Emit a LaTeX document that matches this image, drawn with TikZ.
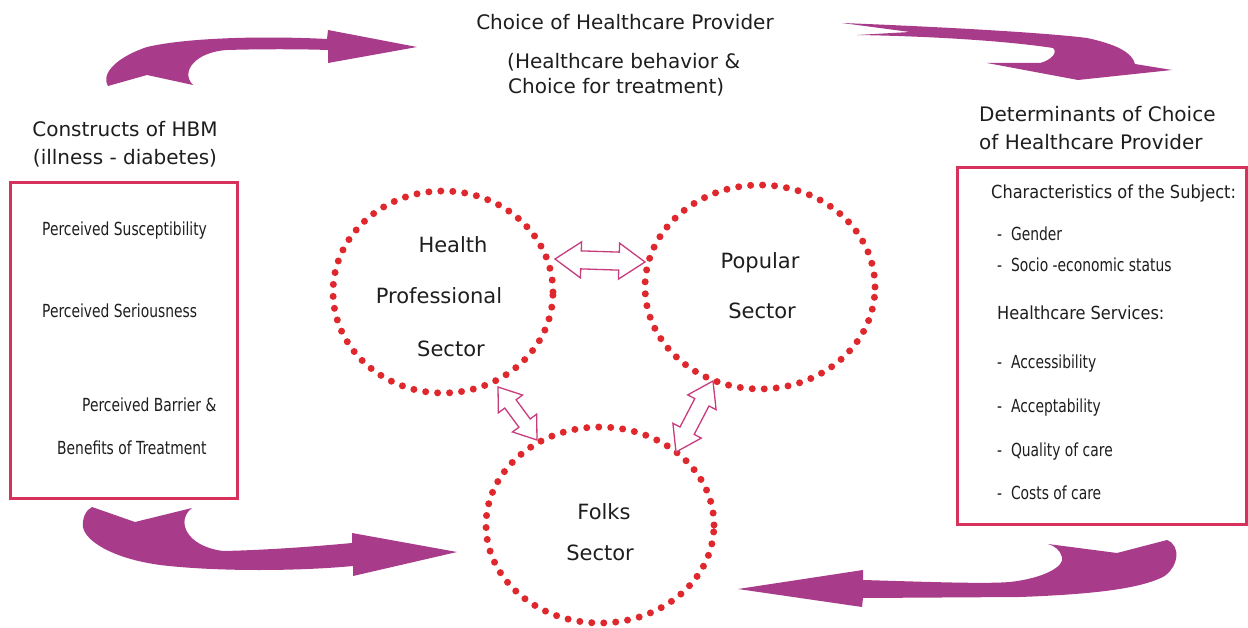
\documentclass[tikz,border=0pt]{standalone}
\usepackage{fontspec}
\setmainfont{DejaVu Sans}
\newfontfamily\condf[FakeStretch=0.77]{DejaVu Sans}
\newfontfamily\semif[FakeStretch=0.9]{DejaVu Sans}
\usetikzlibrary{shapes.geometric,calc}
\definecolor{bigmag}{RGB}{168,60,138}
\definecolor{dotred}{RGB}{222,40,45}
\definecolor{boxred}{RGB}{214,50,92}
\definecolor{dblpink}{RGB}{200,60,125}
\definecolor{txt}{RGB}{30,30,30}
\tikzset{
 headtxt/.style={font=\fontsize{20}{24}\selectfont, text=txt, inner sep=0pt},
 ctext/.style={font=\fontsize{21}{25}\selectfont, text=txt, inner sep=0pt, anchor=base},
 btext/.style={font=\condf\fontsize{18}{22}\selectfont, text=txt, inner sep=0pt, anchor=base west},
 bhead/.style={font=\semif\fontsize{18}{22}\selectfont, text=txt, inner sep=0pt, anchor=base west},
 sector/.style={ellipse, draw=dotred, line width=7pt, dash pattern=on 0pt off 12pt, line cap=round, inner sep=0pt},
 frame/.style={draw=boxred, line width=3pt, inner sep=0pt},
 swoosh/.style={fill=bigmag, draw=none},
 darr/.style={draw=dblpink, line width=1.3pt, fill=white, line join=miter},
}
\newcommand\dblarrow[5]{%
 \draw[darr] (#1)
 -- ($(#1)!#3!(#2)!#4!90:(#2)$)
 -- ($(#1)!#3!(#2)!#5!90:(#2)$)
 -- ($(#2)!#3!(#1)!#5!-90:(#1)$)
 -- ($(#2)!#3!(#1)!#4!-90:(#1)$)
 -- (#2)
 -- ($(#2)!#3!(#1)!#4!90:(#1)$)
 -- ($(#2)!#3!(#1)!#5!90:(#1)$)
 -- ($(#1)!#3!(#2)!#5!-90:(#2)$)
 -- ($(#1)!#3!(#2)!#4!-90:(#2)$)
 -- cycle;}
\begin{document}
\begin{tikzpicture}[x=1pt,y=-1pt]
\useasboundingbox (0,0) rectangle (1248,628);
\fill[white] (0,0) rectangle (1248,628);

% headings
\node[headtxt, anchor=base] (title) at (625,30) {Choice of Healthcare Provider};
\node[headtxt, anchor=base west] (sub1) at (507,69) {(Healthcare behavior \&};
\node[headtxt, anchor=base west] (sub2) at (508,94) {Choice for treatment)};
\node[headtxt, anchor=base] (hbm1) at (125,137) {Constructs of HBM};
\node[headtxt, anchor=base] (hbm2) at (125,165) {(illness - diabetes)};
\node[headtxt, anchor=base west] (det1) at (979,122) {Determinants of Choice};
\node[headtxt, anchor=base west] (det2) at (979,150) {of Healthcare Provider};

% boxes
\node[frame, minimum width=227pt, minimum height=315pt] (lbox) at (123.5,340.5) {};
\node[frame, minimum width=289pt, minimum height=356pt] (rbox) at (1101.5,346) {};

\node[btext] (l1) at (42,235.5) {Perceived Susceptibility};
\node[btext] (l2) at (42,318) {Perceived Seriousness};
\node[btext] (l3) at (82,411) {Perceived Barrier \&};
\node[btext] (l4) at (57,454) {Benefits of Treatment};

\node[bhead] (r1) at (991,199) {Characteristics of the Subject:};
\node[btext] (r2) at (997,241) {-\ \ Gender};
\node[btext] (r3) at (997,272) {-\ \ Socio -economic status};
\node[bhead] (r4) at (997,320) {Healthcare Services:};
\node[btext] (r5) at (997,369) {-\ \ Accessibility};
\node[btext] (r6) at (997,412) {-\ \ Acceptability};
\node[btext] (r7) at (997,456) {-\ \ Quality of care};
\node[btext] (r8) at (997,499) {-\ \ Costs of care};

% sectors
\node[sector, minimum width=220pt, minimum height=202pt] (hp) at (443,292) {};
\node[sector, minimum width=230pt, minimum height=204pt] (pop) at (760,287) {};
\node[sector, minimum width=228pt, minimum height=196pt] (folk) at (600,525) {};

\node[ctext] (hp1) at (453,253) {Health};
\node[ctext] (hp2) at (439,304) {Professional};
\node[ctext] (hp3) at (451,356) {Sector};
\node[ctext] (pop1) at (760,269) {Popular};
\node[ctext] (pop2) at (762,319) {Sector};
\node[ctext] (folk1) at (604,519) {Folks};
\node[ctext] (folk2) at (600,560) {Sector};

% double arrows between sectors
\coordinate (a1) at (555,259);
\coordinate (b1) at (645,262);
\coordinate (a2) at (498,387);
\coordinate (b2) at (537,440);
\coordinate (a3) at (713,381);
\coordinate (b3) at (676,452);
\dblarrow{a1}{b1}{26pt}{18pt}{9pt}
\dblarrow{a2}{b2}{21pt}{15pt}{7pt}
\dblarrow{a3}{b3}{24pt}{16pt}{8pt}

% big swooshes
\fill[swoosh] (417,47) -- (328,30) -- (327,39)
 .. controls (270,36) and (190,37) .. (147,47)
 .. controls (120,56) and (100,72) .. (108,86)
 -- (147,75) -- (193,85)
 .. controls (180,72) and (195,52) .. (227,50)
 .. controls (260,49) and (300,49) .. (328,50)
 -- (328,63) -- cycle;

\fill[swoosh] (842,23)
 .. controls (920,26) and (1040,32) .. (1087,38)
 .. controls (1115,44) and (1132,52) .. (1135,64)
 -- (1172,70) -- (1078,80) -- (987,63) -- (1040,63)
 .. controls (1052,60) and (1058,52) .. (1053,48)
 .. controls (1000,40) and (920,36) .. (857,35)
 -- (910,32) -- cycle;

\fill[swoosh] (92,507) -- (135,522) -- (192,508)
 .. controls (176,520) and (185,546) .. (223,551)
 .. controls (270,550) and (320,546) .. (352,543)
 -- (352,533) -- (457,552) -- (353,576) -- (353,566)
 .. controls (300,571) and (220,572) .. (160,565)
 .. controls (110,558) and (85,540) .. (83,527)
 .. controls (82,518) and (86,510) .. (92,507) -- cycle;

\fill[swoosh] (738,589) -- (863,570) -- (863,580)
 .. controls (930,582) and (985,584) .. (1010,582)
 .. controls (1045,578) and (1065,566) .. (1062,557)
 .. controls (1060,550) and (1055,546) .. (1048,544)
 -- (1117,553) -- (1167,540)
 .. controls (1182,546) and (1178,568) .. (1163,577)
 .. controls (1140,588) and (1100,594) .. (1020,597)
 -- (863,598) -- (862,607) -- cycle;
\end{tikzpicture}
\end{document}
